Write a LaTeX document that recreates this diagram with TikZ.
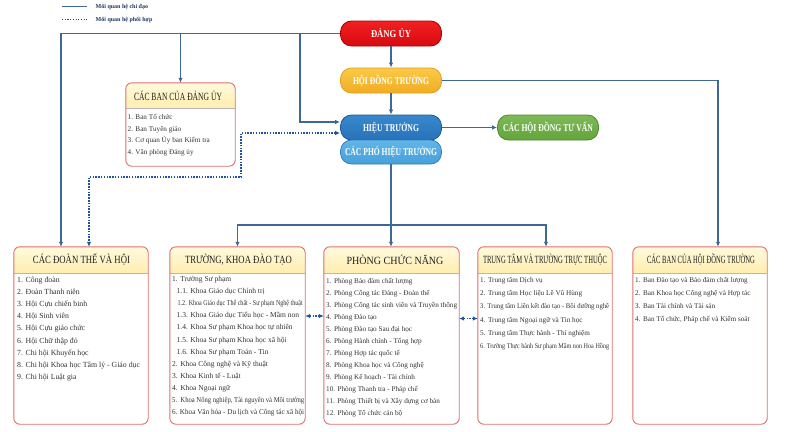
\documentclass[tikz,border=0pt]{standalone}
\usepackage{fontspec}
\setmainfont{Liberation Serif}
\usepackage{graphicx}
\usetikzlibrary{arrows.meta}
\definecolor{lnblue}{RGB}{62,104,152}
\definecolor{dotblue}{RGB}{32,82,158}
\definecolor{pnl}{RGB}{226,110,110}
\definecolor{hdrtop}{RGB}{255,250,222}
\definecolor{hdrbot}{RGB}{255,238,176}
\definecolor{legtxt}{RGB}{31,56,100}
\definecolor{redT}{RGB}{242,32,32}\definecolor{redB}{RGB}{214,10,16}\definecolor{redD}{RGB}{170,0,0}
\definecolor{yelT}{RGB}{250,202,72}\definecolor{yelB}{RGB}{241,172,34}\definecolor{yelD}{RGB}{228,158,40}
\definecolor{bluT}{RGB}{56,136,206}\definecolor{bluB}{RGB}{40,114,184}\definecolor{bluD}{RGB}{30,88,150}
\definecolor{lbT}{RGB}{98,182,232}\definecolor{lbB}{RGB}{70,160,216}\definecolor{lbD}{RGB}{50,128,190}
\definecolor{grT}{RGB}{126,186,86}\definecolor{grB}{RGB}{100,164,60}\definecolor{grD}{RGB}{80,138,50}
\newsavebox\fitbox
\newcommand\fitw[2]{\sbox\fitbox{#2}\ifdim\wd\fitbox>#1\relax\resizebox{#1}{\ht\fitbox}{\usebox\fitbox}\else\usebox\fitbox\fi}
\newcommand\sq[2]{\resizebox{#1}{\height}{#2}}
\newcommand\isz{7.2}
\newcommand\panelbox[6]{%
  \node[panel, minimum width=#4pt, minimum height=#5pt] (#1) at (#2,#3) {};
  \begin{scope}
    \clip[rounded corners=6pt] (#1.north west) rectangle (#1.south east);
    \shade[top color=hdrtop, bottom color=hdrbot] (#1.north west) rectangle ([yshift=-#6pt]#1.north east);
  \end{scope}
  \draw[black!28, line width=0.6pt] ([yshift=-#6pt]#1.north west) -- ([yshift=-#6pt]#1.north east);
  \draw[pnl, line width=0.9pt, rounded corners=6pt] (#1.north west) rectangle (#1.south east);
}
\newcommand\itemsat[6]{%
  \foreach \t [count=\i] in {#6} {\node[itm] (#1-\i) at (#2,{#3+(\i-1)*#4}) {\fitw{#5pt}{\t}};}
}
\begin{document}
\begin{tikzpicture}[x=1pt,y=-1pt,
  lnk/.style={draw=lnblue, line width=1.1pt},
  conn/.style={lnk, -{Latex[length=5pt,width=4.5pt]}},
  conn2/.style={lnk, {Latex[length=5pt,width=4.5pt]}-{Latex[length=5pt,width=4.5pt]}},
  coop/.style={draw=dotblue, line width=1.1pt, dash pattern=on 1.5pt off 1.3pt, {Latex[length=5pt,width=4.5pt]}-{Latex[length=5pt,width=4.5pt]}},
  topbox/.style={rounded corners=11pt, minimum width=101pt, minimum height=25pt, inner sep=0pt, line width=0.8pt, text=white, font=\bfseries\fontsize{10.5}{12}\selectfont},
  panel/.style={fill=white, inner sep=0pt, rounded corners=6pt},
  hdr/.style={font=\fontsize{11}{13}\selectfont, inner sep=0pt, text=black!88},
  itm/.style={font=\fontsize{\isz}{9}\selectfont, inner sep=0pt, anchor=base west, text=black!80},
  leg/.style={font=\bfseries\fontsize{6}{7}\selectfont, inner sep=0pt, text=legtxt},
]
\useasboundingbox (0,0) rectangle (800,431);
\fill[white] (0,0) rectangle (800,431);

% legend
\coordinate (la) at (62,6.5); \coordinate (lb) at (87,6.5);
\draw[draw=lnblue, line width=1pt] (la) -- (lb);
\node[leg, anchor=west] (l1) at (95.5,6.5) {Mối quan hệ chỉ đạo};
\coordinate (lc) at (62,19.5); \coordinate (ld) at (87,19.5);
\draw[draw=dotblue, line width=0.8pt, dash pattern=on 1.2pt off 1.5pt] (lc) -- (ld);
\node[leg, anchor=west] (l2) at (95.5,19.5) {Mối quan hệ phối hợp};

% top nodes
\node[topbox, top color=redT, bottom color=redB, draw=redD] (dang) at (391,33.5) {\sq{40pt}{ĐẢNG ỦY}};
\node[topbox, top color=yelT, bottom color=yelB, draw=yelD] (hdt) at (391,80.5) {\sq{76pt}{HỘI ĐỒNG TRƯỜNG}};
\node[topbox, top color=bluT, bottom color=bluB, draw=bluD] (ht) at (391,127.5) {\sq{56pt}{HIỆU TRƯỞNG}};
\node[topbox, top color=lbT, bottom color=lbB, draw=lbD, minimum height=24pt] (pht) at (391,152) {\sq{92pt}{CÁC PHÓ HIỆU TRƯỞNG}};
\node[topbox, top color=grT, bottom color=grB, draw=grD] (tv) at (548,127.5) {\sq{90pt}{CÁC HỘI ĐỒNG TƯ VẤN}};

% Ban cua Dang uy
\panelbox{bdu}{180.5}{124.5}{109}{83}{25}
\node[hdr] (bduh) at (178,95.5) {\sq{88pt}{CÁC BAN CỦA ĐẢNG ỦY}};
\itemsat{bdu}{127.5}{119.5}{11.6}{104}{1. Ban Tổ chức, 2. Ban Tuyên giáo, 3. Cơ quan Ủy ban Kiểm tra, 4. Văn phòng Đảng ủy}

% bottom panels
\panelbox{b1}{81}{335.5}{134}{177}{26}
\panelbox{b2}{237.5}{335.5}{135}{177}{26}
\panelbox{b3}{391.5}{335.5}{135}{177}{26}
\panelbox{b4}{545}{335.5}{134}{177}{26}
\panelbox{b5}{700}{335.5}{134}{177}{26}

\node[hdr] (b1h) at (81.5,260) {\sq{97pt}{CÁC ĐOÀN THỂ VÀ HỘI}};
\node[hdr] (b2h) at (238.5,260) {\sq{107pt}{TRƯỜNG, KHOA ĐÀO TẠO}};
\node[hdr] (b3h) at (395,260) {\sq{97pt}{PHÒNG CHỨC NĂNG}};
\node[hdr] (b4h) at (545,260) {\sq{124pt}{TRUNG TÂM VÀ TRƯỜNG TRỰC THUỘC}};
\node[hdr] (b5h) at (701,260) {\sq{108pt}{CÁC BAN CỦA HỘI ĐỒNG TRƯỜNG}};

\renewcommand\isz{7.8}
\itemsat{b1}{17}{282.5}{12.1}{128}{1. Công đoàn, 2. Đoàn Thanh niên, 3. Hội Cựu chiến binh, 4. Hội Sinh viên, 5. Hội Cựu giáo chức, 6. Hội Chữ thập đỏ, 7. Chi hội Khuyến học, 8. Chi hội Khoa học Tâm lý - Giáo dục, 9. Chi hội Luật gia}

\renewcommand\isz{7.5}
\itemsat{b2}{172}{281.5}{12.1}{132}{1. Trường Sư phạm, \hspace*{4.5pt}1.1. Khoa Giáo dục Chính trị, {\hspace*{5.5pt}\sq{125pt}{1.2. Khoa Giáo dục Thể chất - Sư phạm Nghệ thuật}}, \hspace*{4.5pt}1.3. Khoa Giáo dục Tiểu học - Mầm non, \hspace*{4.5pt}1.4. Khoa Sư phạm Khoa học tự nhiên, \hspace*{4.5pt}1.5. Khoa Sư phạm Khoa học xã hội, \hspace*{4.5pt}1.6. Khoa Sư phạm Toán - Tin, 2. Khoa Công nghệ và Kỹ thuật, 3. Khoa Kinh tế - Luật, 4. Khoa Ngoại ngữ, {5.\ \ Khoa Nông nghiệp, Tài nguyên và Môi trường}, 6. Khoa Văn hóa - Du lịch và Công tác xã hội}

\renewcommand\isz{7.2}
\itemsat{b3}{326}{283}{12.05}{131}{1. Phòng Bảo đảm chất lượng, 2. Phòng Công tác Đảng - Đoàn thể, 3. Phòng Công tác sinh viên và Truyền thông, 4. Phòng Đào tạo, 5. Phòng Đào tạo Sau đại học, 6. Phòng Hành chính - Tổng hợp, 7. Phòng Hợp tác quốc tế, 8. Phòng Khoa học và Công nghệ, 9. Phòng Kế hoạch - Tài chính, 10. Phòng Thanh tra - Pháp chế, 11. Phòng Thiết bị và Xây dựng cơ bản, 12. Phòng Tổ chức cán bộ}

\itemsat{b4}{480}{282.5}{13.2}{129}{1. Trung tâm Dịch vụ, 2. Trung tâm Học liệu Lê Vũ Hùng, 3. Trung tâm Liên kết đào tạo - Bồi dưỡng nghề, 4. Trung tâm Ngoại ngữ và Tin học, 5. Trung tâm Thực hành - Thí nghiệm, 6. Trường Thực hành Sư phạm Mầm non Hoa Hồng}

\itemsat{b5}{635}{282.5}{13}{128}{1. Ban Đào tạo và Bảo đảm chất lượng, 2. Ban Khoa học Công nghệ và Hợp tác, 3. Ban Tài chính và Tài sản, {4. Ban Tổ chức, Pháp chế và Kiểm soát}}

% connectors
\coordinate (c1) at (61,33.5);
\draw[conn] (dang.west) -- (c1) -- (c1 |- b1.north);
\coordinate (c2) at (180.5,33.5);
\draw[conn] (c2) -- (bdu.north);
\coordinate (c3) at (300,33.5); \coordinate (c3b) at (300,122);
\draw[conn] (c3) -- (c3b) -- (c3b -| ht.west);
\coordinate (d1) at (241,133); \coordinate (d2) at (241,177); \coordinate (d3) at (89,177);
\draw[coop] (d1 -| ht.west) -- (d1) -- (d2) -- (d3) -- (d3 |- b1.north);
\draw[conn] (dang) -- (hdt);
\draw[conn] (hdt) -- (ht);
\draw[conn] (ht) -- (tv);
\coordinate (e1) at (718,80.5);
\draw[conn] (hdt.east) -- (e1) -- (e1 |- b5.north);
\draw[conn] (pht.south) -- (pht.south |- b3.north);
\coordinate (f1) at (237.5,225); \coordinate (f2) at (546,225);
\draw[conn2] (f1 |- b2.north) -- (f1) -- (f2) -- (f2 |- b4.north);
\coordinate (g1) at (0,316); \coordinate (g2) at (0,318.5);
\draw[coop] (b2.east |- g1) -- (b3.west |- g1);
\draw[coop] (b3.east |- g2) -- (b4.west |- g2);
\end{tikzpicture}
\end{document}
